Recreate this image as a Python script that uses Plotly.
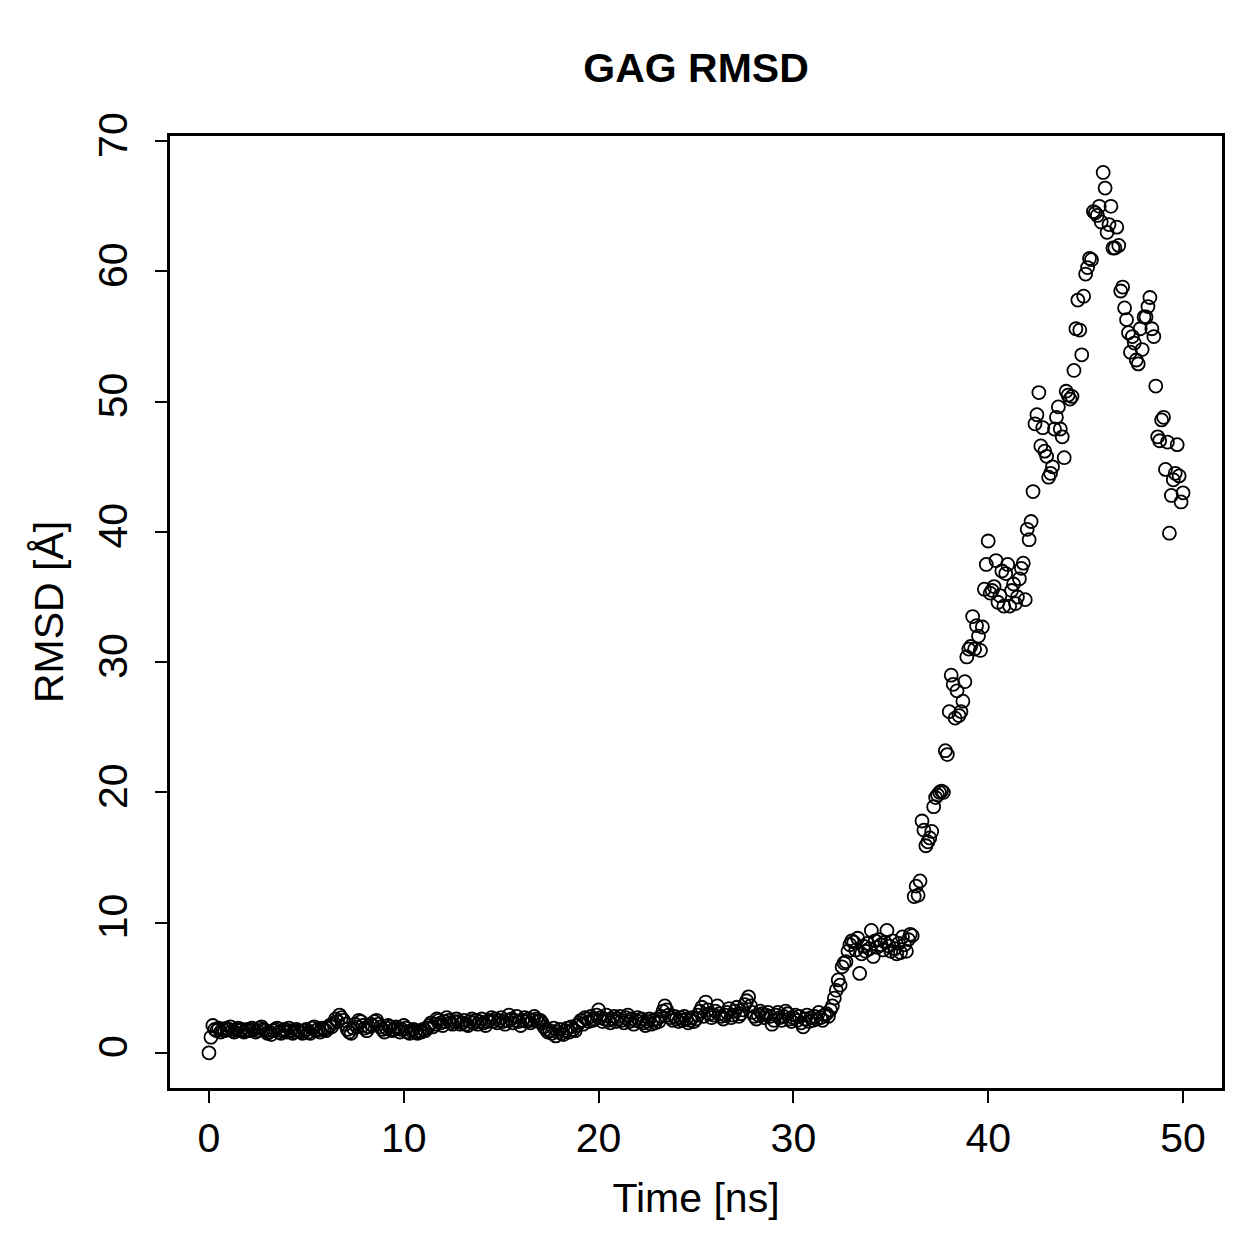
import numpy as np
import plotly.graph_objects as go

# Time in ns, sampled every 0.1 ns from 0 to 50
time_ns = np.round(np.arange(0, 501) * 0.1, 1)

rmsd = [
    0.0, 1.2, 2.1, 1.8, 1.7, 1.9, 1.6, 1.8, 1.7, 1.9,
    1.8, 2.0, 1.7, 1.6, 1.8, 1.9, 1.7, 1.8, 1.6, 1.7,
    1.8, 1.7, 1.9, 1.8, 1.6, 1.7, 1.9, 2.0, 1.8, 1.7,
    1.5, 1.6, 1.4, 1.7, 1.8, 1.9, 1.6, 1.5, 1.7, 1.8,
    1.6, 1.9, 1.7, 1.5, 1.6, 1.8, 1.7, 1.6, 1.5, 1.7,
    1.8, 1.6, 1.5, 1.9, 2.0, 1.7, 1.8, 1.6, 1.9, 1.8,
    1.7, 1.9, 2.1, 2.0, 2.3, 2.6, 2.4, 2.9, 2.7, 2.5,
    2.2, 1.8, 1.6, 1.5, 1.9, 2.2, 2.0, 2.5, 2.4, 2.1,
    1.9, 1.7, 2.0, 2.2, 2.1, 2.4, 2.5, 2.2, 2.0, 1.8,
    1.6, 1.9, 2.1, 2.0, 1.7, 1.8, 2.0, 1.9, 1.6, 1.8,
    2.1, 1.9, 1.6, 1.5, 1.7, 1.8, 1.6, 1.5, 1.7, 1.6,
    1.8, 1.7, 1.9, 2.1, 2.3, 2.0, 2.2, 2.6, 2.5, 2.3,
    2.1, 2.4, 2.7, 2.5, 2.3, 2.2, 2.4, 2.6, 2.4, 2.2,
    2.3, 2.5, 2.2, 2.1, 2.4, 2.6, 2.3, 2.5, 2.2, 2.4,
    2.6, 2.3, 2.1, 2.4, 2.5, 2.7, 2.4, 2.6, 2.3, 2.5,
    2.7, 2.4, 2.2, 2.5, 2.9, 2.6, 2.3, 2.5, 2.8, 2.4,
    2.1, 2.5, 2.7, 2.4, 2.6, 2.3, 2.5, 2.8, 2.6, 2.4,
    2.5, 2.3, 2.0, 1.8, 1.6, 1.7, 1.5, 1.9, 1.3, 1.6,
    1.8, 1.5, 1.4, 1.7, 1.9, 1.6, 2.0, 1.8, 1.7, 2.1,
    2.3, 2.5, 2.2, 2.7, 2.6, 2.4, 2.8, 2.5, 2.6, 2.9,
    3.3, 2.7, 2.4, 2.6, 2.9, 2.5, 2.3, 2.6, 2.8, 2.4,
    2.6, 2.8, 2.5, 2.3, 2.7, 2.9, 2.4, 2.6, 2.2, 2.5,
    2.7, 2.4, 2.6, 2.3, 2.1, 2.4, 2.6, 2.2, 2.5, 2.3,
    2.6, 2.4, 2.8, 3.2, 3.6, 3.3, 2.9, 2.7, 2.5, 2.8,
    2.6, 2.4, 2.7, 2.5, 2.8, 2.6, 2.3, 2.5, 2.7, 2.4,
    2.6, 2.9, 3.2, 3.5, 2.8, 3.9, 3.3, 3.0, 2.7, 2.9,
    3.2, 3.6, 3.0, 2.8, 2.6, 2.9, 3.1, 3.4, 2.7, 2.9,
    3.2, 3.5, 2.8, 3.0, 3.3, 3.7, 4.0, 4.3, 3.6, 3.1,
    2.8, 2.6, 2.9, 3.2, 3.0, 2.7, 2.9, 3.1, 2.8, 2.2,
    2.5, 2.9, 3.1, 2.7, 2.5, 2.8, 3.2, 3.0, 2.6, 2.4,
    2.7, 2.9, 2.5, 2.8, 2.3, 2.0, 2.6, 2.9, 2.4, 2.7,
    2.5, 2.8, 2.6, 3.1, 2.7, 2.5, 2.9, 3.0, 2.8, 3.3,
    3.6, 4.2, 4.8, 5.6, 5.2, 6.6, 6.9, 7.0, 7.8, 8.3,
    8.6, 8.5, 7.9, 8.8, 6.1, 7.6, 8.2, 7.8, 8.4, 8.0,
    9.4, 7.4, 8.6, 8.1, 8.7, 8.3, 7.9, 8.5, 9.4, 8.2,
    7.8, 8.6, 8.0, 7.6, 8.4, 7.7, 8.9, 8.3, 7.8, 8.7,
    9.1, 9.0, 12.0, 12.8, 12.1, 13.2, 17.8, 17.1, 15.9, 16.2,
    16.5, 17.0, 18.9, 19.6, 19.8, 20.0, 20.1, 20.0, 23.2, 22.9,
    26.2, 29.0, 28.3, 25.7, 27.8, 25.9, 26.2, 27.0, 28.5, 30.4,
    31.0, 31.2, 33.5, 31.0, 32.8, 32.0, 30.9, 32.7, 35.6, 37.5,
    39.3, 35.3, 35.5, 35.8, 37.8, 34.6, 35.1, 37.0, 34.3, 36.8,
    37.5, 34.3, 35.5, 36.0, 34.5, 35.0, 36.4, 37.2, 37.6, 34.8,
    40.2, 39.4, 40.8, 43.1, 48.3, 49.0, 50.7, 46.6, 48.0, 46.2,
    45.8, 44.2, 44.5, 45.0, 47.9, 48.8, 49.6, 47.9, 47.3, 45.7,
    50.8, 50.5, 50.2, 50.4, 52.4, 55.6, 57.8, 55.5, 53.6, 58.1,
    59.8, 60.3, 61.0, 60.9, 64.6, 64.5, 64.3, 65.0, 63.8, 67.6,
    66.4, 63.0, 63.6, 65.0, 61.8, 61.8, 63.4, 62.0, 58.5, 58.8,
    57.2, 56.3, 55.3, 53.8, 55.0, 54.5, 53.2, 52.9, 55.6, 54.0,
    56.5, 56.5, 57.3, 58.0, 55.6, 55.0, 51.2, 47.3, 47.0, 48.6,
    48.8, 44.8, 46.9, 39.9, 42.8, 44.0, 44.5, 46.7, 44.3, 42.3,
    43.0,
]

x_ticks = [0, 10, 20, 30, 40, 50]
y_ticks = [0, 10, 20, 30, 40, 50, 60, 70]

FONT = "Liberation Sans, Arial, Helvetica, sans-serif"
LABEL_SIZE = 41

fig = go.Figure(
    go.Scatter(
        x=time_ns,
        y=rmsd,
        mode="markers",
        marker=dict(symbol="circle-open", size=13, color="black",
                    line=dict(color="black", width=1.8)),
        showlegend=False,
    )
)

fig.update_layout(
    width=1259,
    height=1259,
    paper_bgcolor="white",
    plot_bgcolor="white",
    margin=dict(l=170, r=37, t=136, b=171),
    font=dict(family=FONT, color="black", size=LABEL_SIZE),
    title=dict(
        text="<b>GAG RMSD</b>",
        x=0.5,
        xref="paper",
        xanchor="center",
        y=1 - 68 / 1259,
        yref="container",
        yanchor="middle",
        font=dict(family=FONT, size=41, color="black"),
    ),
)

fig.update_xaxes(
    range=[-2, 52],
    tickmode="array",
    tickvals=x_ticks,
    ticktext=[str(t) for t in x_ticks],
    ticks="outside",
    ticklen=12,
    tickwidth=2,
    tickcolor="black",
    ticklabelstandoff=0,
    showline=True,
    linecolor="black",
    linewidth=2.5,
    mirror=True,
    showgrid=False,
    zeroline=False,
    tickfont=dict(size=LABEL_SIZE),
    title=dict(text="Time [ns]", font=dict(size=LABEL_SIZE), standoff=24),
)

fig.update_yaxes(
    range=[-2.7, 70.4],
    tickmode="array",
    tickvals=y_ticks,
    ticktext=[str(t) for t in y_ticks],
    ticks="outside",
    ticklen=12,
    tickwidth=2,
    tickcolor="black",
    tickangle=-90,
    ticklabelstandoff=12,
    showline=True,
    linecolor="black",
    linewidth=2.5,
    mirror=True,
    showgrid=False,
    zeroline=False,
    tickfont=dict(size=LABEL_SIZE),
    title=dict(text="RMSD [Å]", font=dict(size=LABEL_SIZE), standoff=14),
)

fig.write_html("out.html")
